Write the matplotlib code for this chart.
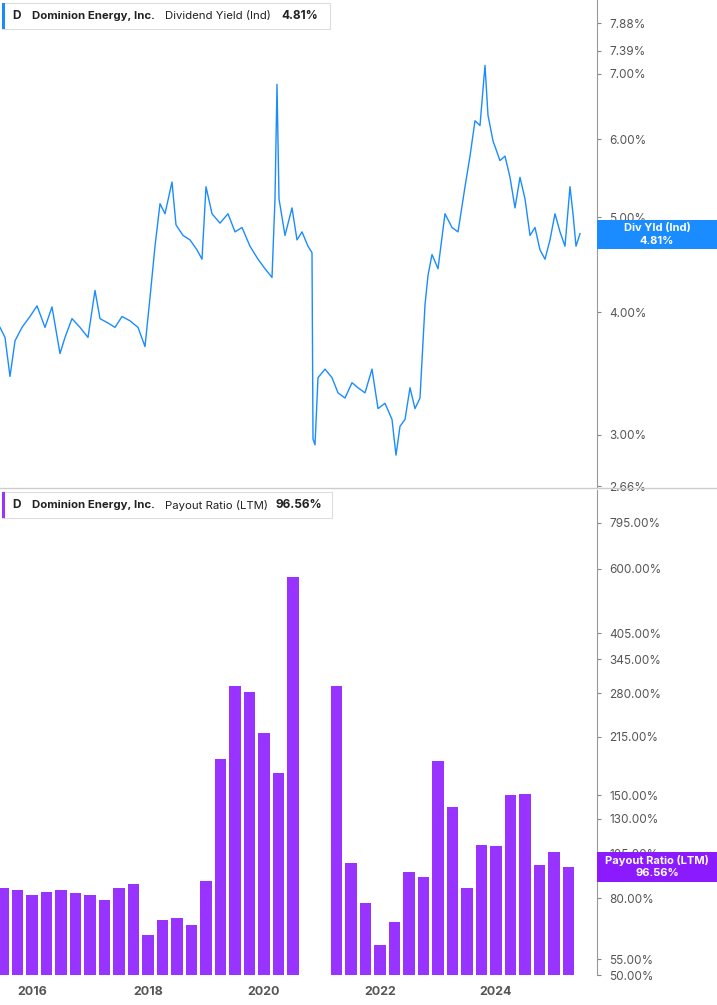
import numpy as np
import matplotlib
matplotlib.use("Agg")
import matplotlib.pyplot as plt
from matplotlib.ticker import FixedLocator, NullLocator

# Dividend yield (fractional year, %)
yld_x_px = [0,5,10,15,22,30,37,45,52,60,65,72,80,88,95,100,108,115,122,130,138,145,150,155,160,165,172,176,183,190,197,202,206,212,220,228,235,242,250,258,265,272,275,277,279,285,292,297,302,308,312,313,315,318,325,332,338,345,352,358,365,372,378,385,392,396,400,405,410,415,420,425,428,432,438,445,452,458,465,470,475,480,485,488,493,500,505,510,515,520,525,530,535,540,545,550,555,560,565,570,573,576,580]
yld_years = [2016 + (p - 32) / 58 for p in yld_x_px]
yld_vals = [3.86,3.77,3.44,3.74,3.86,3.96,4.06,3.86,4.05,3.63,3.77,3.94,3.86,3.77,4.21,3.94,3.90,3.86,3.96,3.92,3.86,3.69,4.14,4.67,5.16,5.04,5.43,4.91,4.79,4.74,4.63,4.53,5.37,5.04,4.93,5.04,4.83,4.88,4.67,4.53,4.43,4.34,5.22,6.83,5.22,4.79,5.11,4.74,4.83,4.67,4.60,2.97,2.93,3.43,3.50,3.43,3.31,3.27,3.39,3.35,3.31,3.50,3.19,3.23,3.11,2.86,3.06,3.11,3.35,3.19,3.27,4.07,4.36,4.58,4.43,5.04,4.88,4.83,5.37,5.77,6.27,6.20,7.14,6.35,5.98,5.71,5.77,5.49,5.11,5.49,5.22,4.79,4.88,4.63,4.53,4.74,5.04,4.83,4.67,5.37,5.04,4.67,4.81]

# Payout ratio (LTM), quarterly
pay_years = [2015.5 + 0.25 * i for i in range(40)]
pay_vals = [85,84,81.6,83,84,82.5,81.6,79,85,87,64,70,71,68,89,187,294,282,220,172,570,
            np.nan,np.nan,294,99,77.7,60,69,94,91,185,140,85,111,110,150,151,98,106,96.56]

yld_ticks = [2.66,3.00,4.00,5.00,6.00,7.00,7.39,7.88]
pay_ticks = [50,55,80,105,130,150,215,280,345,405,600,795]
year_ticks = [2016,2018,2020,2022,2024]

W, H = 717, 1005
fig = plt.figure(figsize=(W/100, H/100), dpi=100)
plt.rcParams['font.family'] = 'Inter'
xl = (2016 - 32/58, 2016 + 565/58)
tc = '#555555'

def add_ax(top, bottom):
    return fig.add_axes([0, 1 - bottom/H, 597/W, (bottom - top)/H])

ax1 = add_ax(0, 488)
ax1.plot(yld_years, yld_vals, color='#1a8cff', lw=1.0)
ax1.set_yscale('log')
ax1.set_ylim(2.66*np.exp(-2/426), 2.66*np.exp(486/426))
ax1.set_xlim(*xl)

ax2 = add_ax(490, 975)
ax2.bar(pay_years, pay_vals, width=0.2, color='#9933ff', bottom=0)
ax2.set_yscale('log')
ax2.set_ylim(50, 50*np.exp(485/163.4))
ax2.set_xlim(*xl)

for ax, ticks in ((ax1, yld_ticks), (ax2, pay_ticks)):
    ax.yaxis.tick_right()
    ax.yaxis.set_major_locator(FixedLocator(ticks))
    ax.yaxis.set_minor_locator(NullLocator())
    ax.set_yticklabels([f"{t:.2f}%" for t in ticks])
    ax.tick_params(axis='y', colors='#888888', labelcolor=tc, labelsize=8.5, length=3, pad=6)
    for s in ('top', 'left', 'bottom'):
        ax.spines[s].set_visible(False)
    ax.spines['right'].set_color('#999999')
    ax.set_facecolor('none')

ax1.set_xticks([])
ax2.set_xticks(year_ticks)
ax2.set_xticklabels([str(y) for y in year_ticks], fontweight='bold')
ax2.tick_params(axis='x', length=0, labelcolor=tc, labelsize=9, pad=8)

# separator line
fig.add_artist(plt.Line2D([0, 1], [1-488/H, 1-488/H], color='#cccccc', lw=1))

# legend boxes
def legend(y, color, name, val, xv, x1):
    fig.add_artist(plt.Rectangle((2/W, 1-(y+13)/H), (x1-2)/W, 26/H, facecolor='white', edgecolor='#dddddd', lw=0.8))
    fig.add_artist(plt.Rectangle((2/W, 1-(y+13)/H), 3/W, 26/H, facecolor=color, edgecolor='none'))
    fig.text(12/W, 1-y/H, "D", fontsize=8.5, fontweight='bold', va='center', color='#222222')
    fig.text(32/W, 1-y/H, "Dominion Energy, Inc.", fontsize=8.2, fontweight='bold', va='center', color='#222222')
    fig.text(165/W, 1-y/H, name, fontsize=8.2, va='center', color='#222222')
    fig.text(xv/W, 1-y/H, val, fontsize=8.5, fontweight='bold', va='center', color='#222222')

legend(16, '#1a8cff', "Dividend Yield (Ind)", "4.81%", 281, 330)
legend(505, '#9933ff', "Payout Ratio (LTM)", "96.56%", 276, 332)

def tag(y0, y1, color, l1, l2):
    fig.add_artist(plt.Rectangle((597/W, 1-y1/H), 120/W, (y1-y0)/H, facecolor=color, edgecolor='none', zorder=5))
    cy = (y0+y1)/2
    fig.text(657/W, 1-(cy-6)/H, l1, fontsize=8, fontweight='bold', color='white', ha='center', va='center', zorder=6)
    fig.text(657/W, 1-(cy+6)/H, l2, fontsize=8, fontweight='bold', color='white', ha='center', va='center', zorder=6)

tag(220, 249, '#1a8cff', "Div Yld (Ind)", "4.81%")
tag(852, 882, '#8c1aff', "Payout Ratio (LTM)", "96.56%")

fig.savefig("out.png", dpi=100)
